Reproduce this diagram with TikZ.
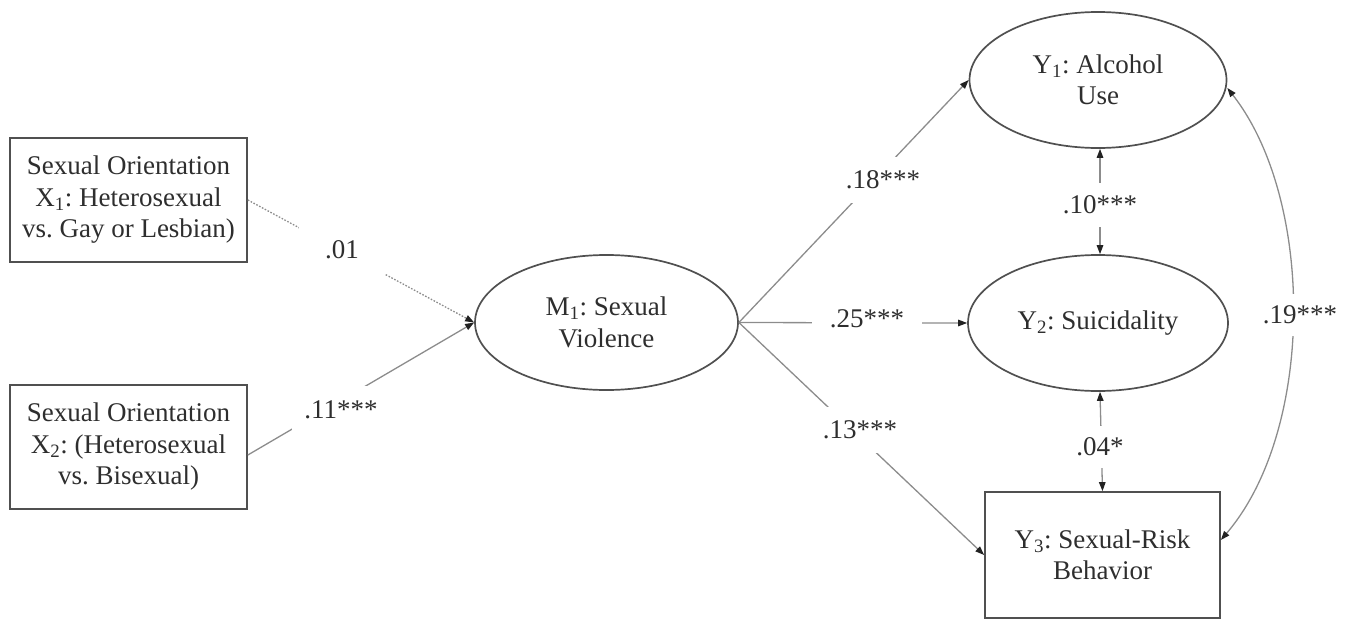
\documentclass[tikz,border=0pt]{standalone}
\usepackage{fontspec}
\setmainfont{Liberation Serif}
\usetikzlibrary{shapes.geometric,arrows.meta}
\definecolor{shapegray}{HTML}{505050}
\definecolor{linegray}{HTML}{8C8C8C}
\definecolor{txtgray}{HTML}{2E2E2E}
\definecolor{tipgray}{HTML}{222222}
\frenchspacing
\begin{document}
\begin{tikzpicture}[x=1pt,y=-1pt,
  txt/.style={font=\fontsize{27}{31.5}\selectfont\frenchspacing, text=txtgray, align=center},
  boxnode/.style={txt, draw=shapegray, line width=1.7pt, rectangle, inner sep=0pt,
    minimum width=237pt, minimum height=124pt},
  ellnode/.style={txt, draw=shapegray, line width=1.7pt, ellipse, inner sep=0pt,
    minimum width=260pt, minimum height=136pt},
  conn/.style={draw=linegray, line width=1.3pt, -{Triangle[length=9pt,width=6.5pt,color=tipgray]}},
  dconn/.style={draw=linegray, line width=1.3pt, {Triangle[length=9pt,width=6.5pt,color=tipgray]}-{Triangle[length=9pt,width=6.5pt,color=tipgray]}},
  dotconn/.style={conn, dash pattern=on 1.6pt off 1.6pt},
  lab/.style={txt, fill=white, inner xsep=12pt, inner ysep=14pt}
]
\useasboundingbox (0,0) rectangle (1353,621);

% nodes
\node[boxnode] (X1) at (128.5,200) {Sexual Orientation\\X\textsubscript{1}: Heterosexual\\vs. Gay or Lesbian)};
\node[boxnode] (X2) at (128.5,447) {Sexual Orientation\\X\textsubscript{2}: (Heterosexual\\vs. Bisexual)};
\node[ellnode, minimum width=263pt, minimum height=135pt] (M1) at (606.5,322.5) {M\textsubscript{1}: Sexual\\Violence};
\node[ellnode, minimum width=257pt] (Y1) at (1098,80) {Y\textsubscript{1}: Alcohol\\Use};
\node[ellnode] (Y2) at (1098,323) {Y\textsubscript{2}: Suicidality};
\node[boxnode, minimum width=235pt, minimum height=126pt] (Y3) at (1102.5,555) {Y\textsubscript{3}: Sexual-Risk\\Behavior};

% connectors
\draw[dotconn] (X1.east) -- (M1.west);
\draw[conn] ([yshift=-8pt]X2.east) -- (M1.west);
\draw[conn] (M1.east) -- (Y1.west);
\draw[conn] (M1.east) -- (Y2.west);
\draw[conn] (M1.east) -- (Y3.west);
\draw[dconn] ([xshift=2pt]Y1.south) -- ([xshift=2pt]Y2.north);
\draw[dconn] ([xshift=2pt]Y2.south) -- (Y3.north);
\draw[dconn] ([yshift=-8pt]Y1.east) .. controls (1315,200) and (1315,430) .. ([yshift=15pt]Y3.east);

% labels
\node[lab, inner xsep=26pt, inner ysep=16pt] (l01) at (342,250) {.01};
\node[lab, inner ysep=15pt] (l11) at (341,410) {.11***};
\node[lab] (l18) at (883,180) {.18***};
\node[lab, inner xsep=18pt] (l25) at (867,319) {.25***};
\node[lab] (l13) at (860,430) {.13***};
\node[lab, inner ysep=13pt] (l10) at (1100,205) {.10***};
\node[lab, inner ysep=12pt] (l04) at (1100,447) {.04*};
\node[lab, inner xsep=4pt, inner ysep=12pt] (l19) at (1300,315) {.19***};
\end{tikzpicture}
\end{document}
